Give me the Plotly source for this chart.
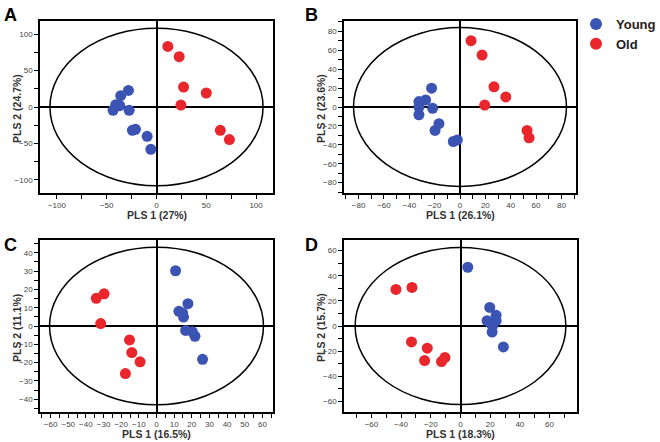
import plotly.graph_objects as go

# ---- data ----
panels = ["A", "B", "C", "D"]
x_titles = ["PLS 1 (27%)", "PLS 1 (26.1%)", "PLS 1 (16.5%)", "PLS 1 (18.3%)"]
y_titles = ["PLS 2 (24.7%)", "PLS 2 (23.6%)", "PLS 2 (11.1%)", "PLS 2 (15.7%)"]

young_x_A = [-28.2, -35.9, -40.9, -36.9, -43.6, -27.5, -24.2, -21.1, -9.4, -5.7]
young_y_A = [22.8, 15.5, 3.2, 1.8, -4.6, -4.6, -32.0, -30.6, -40.2, -58.0]
old_x_A = [11.4, 22.8, 27.2, 50.0, 24.5, 64.1, 73.2]
old_y_A = [83.1, 69.0, 27.4, 19.2, 2.7, -32.0, -44.7]

young_x_B = [-22.4, -27.1, -32.4, -32.4, -32.4, -21.6, -16.6, -19.7, -5.3, -2.1]
young_y_B = [19.9, 7.4, 5.7, 0.0, -8.2, -1.4, -17.7, -24.8, -36.5, -34.8]
old_x_B = [8.7, 17.4, 26.8, 36.1, 19.5, 52.9, 54.5]
old_y_B = [70.2, 55.0, 21.3, 10.6, 2.1, -24.8, -32.6]

young_x_C = [10.8, 17.8, 12.7, 14.8, 15.3, 16.5, 20.3, 21.8, 26.1]
young_y_C = [30.2, 12.2, 8.0, 7.1, 4.9, -2.4, -3.1, -5.6, -18.2]
old_x_C = [-34.1, -29.7, -31.6, -15.3, -14.0, -9.3, -17.6]
old_y_C = [15.1, 17.6, 1.3, -7.6, -14.5, -19.6, -26.0]

young_x_D = [4.9, 19.7, 17.9, 24.0, 24.0, 21.7, 21.3, 28.9, 20.5]
young_y_D = [46.8, 14.8, 4.2, 8.5, 4.2, 0.3, -4.8, -16.7, 2.0]
old_x_D = [-43.5, -32.7, -33.0, -22.4, -24.2, -12.8, -10.5]
old_y_D = [29.1, 30.7, -12.7, -17.7, -27.5, -28.3, -25.1]

young_x = [young_x_A, young_x_B, young_x_C, young_x_D]
young_y = [young_y_A, young_y_B, young_y_C, young_y_D]
old_x = [old_x_A, old_x_B, old_x_C, old_x_D]
old_y = [old_y_A, old_y_B, old_y_C, old_y_D]

# Hotelling ellipse semi-axes per panel
ellipse_rx = [107, 84, 60.6, 71]
ellipse_ry = [108, 84, 43, 62.5]

# axis settings per panel
x_ranges = [[-117, 117], [-91.5, 91.5], [-66, 66], [-78.5, 78.5]]
y_ranges = [[-118, 118], [-91, 91], [-47, 47], [-68.5, 68.5]]
x_dticks = [50, 20, 10, 20]
y_dticks = [50, 20, 10, 20]
x_minor = [25, 10, 5, 10]
y_minor = [25, 10, 5, 10]

# ---- layout geometry ----
W, H = 660, 442
px_x = [[40, 273], [344, 576], [40, 273], [344, 577]]
px_y = [[21, 193], [21, 193], [240, 412], [240, 412]]

BLUE = "#3B54B3"
RED = "#E8262B"
FONT = "Liberation Sans, Arial, sans-serif"
TXT = "#333333"

fig = go.Figure()
layout = dict(
    width=W, height=H, margin=dict(l=0, r=0, t=0, b=0, autoexpand=False),
    plot_bgcolor="white", paper_bgcolor="white",
    font=dict(family=FONT, color=TXT, size=9),
    showlegend=True,
    legend=dict(x=576 / W, y=1 - 9 / H, xanchor="left", yanchor="top",
                font=dict(size=13, color="#222222", family=FONT),
                itemsizing="constant", tracegroupgap=0, bgcolor="rgba(0,0,0,0)",
                itemwidth=30),
)
shapes = []
annotations = []

for i in range(4):
    sfx = "" if i == 0 else str(i + 1)
    xa, ya = "x" + sfx, "y" + sfx
    fig.add_trace(go.Scatter(x=young_x[i], y=young_y[i], mode="markers", xaxis=xa, yaxis=ya,
                             marker=dict(color=BLUE, size=11), name="<b>Young</b>",
                             legendgroup="young", showlegend=(i == 0)))
    fig.add_trace(go.Scatter(x=old_x[i], y=old_y[i], mode="markers", xaxis=xa, yaxis=ya,
                             marker=dict(color=RED, size=11), name="<b>Old</b>",
                             legendgroup="old", showlegend=(i == 0)))
    axcommon = dict(showgrid=False, zeroline=True, zerolinecolor="black", zerolinewidth=1.5,
                    showline=True, linecolor="black", linewidth=1.5, mirror=True,
                    ticks="outside", ticklen=4, tickwidth=1.2, tickcolor="black",
                    automargin=False, tickangle=0,
                    tickfont=dict(size=8, color="#444444"))
    layout["xaxis" + sfx] = dict(
        axcommon, domain=[px_x[i][0] / W, px_x[i][1] / W], anchor=ya,
        range=x_ranges[i], dtick=x_dticks[i], tick0=0,
        minor=dict(dtick=x_minor[i], tick0=0, ticks="outside", ticklen=4, tickcolor="black", tickwidth=1.2))
    layout["yaxis" + sfx] = dict(
        axcommon, domain=[1 - px_y[i][1] / H, 1 - px_y[i][0] / H], anchor=xa,
        range=y_ranges[i], dtick=y_dticks[i], tick0=0,
        minor=dict(dtick=y_minor[i], tick0=0, ticks="outside", ticklen=4, tickcolor="black", tickwidth=1.2))
    shapes.append(dict(type="circle", xref=xa, yref=ya,
                       x0=-ellipse_rx[i], x1=ellipse_rx[i], y0=-ellipse_ry[i], y1=ellipse_ry[i],
                       line=dict(color="black", width=1.5), layer="below"))
    # axis titles as positioned text
    cx = (px_x[i][0] + px_x[i][1]) / 2
    cy = (px_y[i][0] + px_y[i][1]) / 2
    annotations.append(dict(text="<b>" + x_titles[i] + "</b>", xref="paper", yref="paper",
                            x=cx / W, y=1 - (px_y[i][1] + 21.5) / H, xanchor="center", yanchor="middle",
                            showarrow=False, font=dict(size=10.5, color=TXT, family=FONT)))
    annotations.append(dict(text="<b>" + y_titles[i] + "</b>", xref="paper", yref="paper",
                            x=(px_x[i][0] - 23) / W, y=1 - (cy + 2) / H, xanchor="center", yanchor="middle",
                            textangle=-90, showarrow=False, font=dict(size=10.5, color=TXT, family=FONT)))
    lx = [2, 303, 2, 303][i]
    ly = [3, 3, 233, 233][i]
    annotations.append(dict(text="<b>" + panels[i] + "</b>", xref="paper", yref="paper",
                            x=lx / W, y=1 - ly / H, xanchor="left", yanchor="top",
                            showarrow=False, font=dict(size=18, color="black", family=FONT)))

layout["shapes"] = shapes
layout["annotations"] = annotations
fig.update_layout(**layout)
fig.write_html("out.html", config={"displayModeBar": False},
               post_script="document.body.style.margin='0';document.body.style.padding='0';")
